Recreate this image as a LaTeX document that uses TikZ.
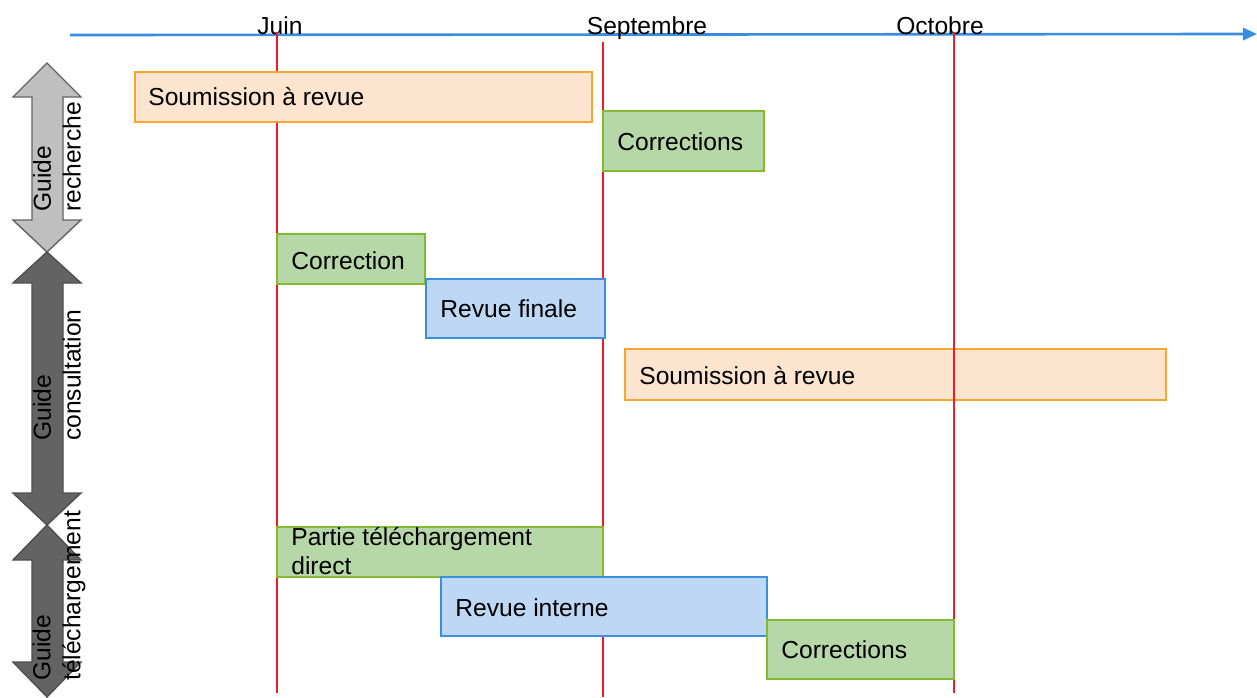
\documentclass[tikz,border=0pt]{standalone}
\usepackage{fontspec}
\setmainfont{Liberation Sans}
\usetikzlibrary{arrows.meta}

\definecolor{axisblue}{RGB}{58,141,222}
\definecolor{milered}{RGB}{238,28,36}
\definecolor{orangefill}{RGB}{252,228,207}
\definecolor{orangeline}{RGB}{248,165,49}
\definecolor{greenfill}{RGB}{182,215,168}
\definecolor{greenline}{RGB}{130,186,45}
\definecolor{bluefill}{RGB}{189,215,244}
\definecolor{blueline}{RGB}{59,143,221}
\definecolor{lightgrey}{RGB}{191,191,191}
\definecolor{darkgrey}{RGB}{99,99,99}

\begin{document}
\begin{tikzpicture}[x=0.02cm, y=-0.02cm,
        lbl/.style={anchor=west, inner sep=0, font=\fontsize{14}{16.5}\selectfont, align=left},
        month/.style={anchor=base, inner sep=0, font=\fontsize{14}{16}\selectfont},
        guide/.style={rotate=90, anchor=west, inner sep=0, align=left,
            font=\fontsize{14}{17}\selectfont},
        orangebox/.style={fill=orangefill, draw=orangeline, line width=1.2pt},
        greenbox/.style={fill=greenfill, draw=greenline, line width=1.2pt},
        bluebox/.style={fill=bluefill, draw=blueline, line width=1.2pt},
        mileline/.style={milered, line width=1.1pt}]
                    \useasboundingbox (0,0) rectangle (1257,697);
                    % axe du temps
                    \draw[axisblue, line width=1.5pt, -{Triangle[length=8pt, width=7pt]}] (70,35) -- (1257,34);
                    \node[month] (juin) at (280,34) {Juin};
                    \node[month] (sept) at (647,34) {Septembre};
                    \node[month] (oct) at (940,34) {Octobre};
                    \draw[mileline] (277,32) -- (277,693);
                    \draw[mileline] (603,42) -- (603,697);
                    % fleches des guides
                    \draw[fill=lightgrey, draw=darkgrey, line width=0.8pt]
                        (47,63) -- (81,97) -- (63,97) -- (63,220) -- (81,220) -- (47,252)
                        -- (13,220) -- (32,220) -- (32,97) -- (13,97) -- cycle;
                    \draw[fill=darkgrey, draw=darkgrey!80!black, line width=0.8pt]
                        (47,252) -- (81,283) -- (63,283) -- (63,493) -- (81,493) -- (47,525)
                        -- (13,493) -- (32,493) -- (32,283) -- (13,283) -- cycle;
                    \draw[fill=darkgrey, draw=darkgrey!80!black, line width=0.8pt]
                        (47,525) -- (81,560) -- (63,560) -- (63,662) -- (81,662) -- (47,697)
                        -- (13,662) -- (32,662) -- (32,560) -- (13,560) -- cycle;
                    \node[guide] (grech) at (57,212) {Guide\\recherche};
                    \node[guide] (gcons) at (57,441) {Guide\\consultation};
                    \node[guide] (gtele) at (59,681) {Guide\\téléchargement};
                    % taches
                    \draw[orangebox] (135,72) rectangle (592,122);
                    \node[lbl] (soumA) at (148,97) {Soumission à revue};
                    \draw[greenbox] (603,111) rectangle (764,171);
                    \node[lbl] (corrA) at (617,142) {Corrections};
                    \draw[greenbox] (277,234) rectangle (425,284);
                    \node[lbl] (corrB) at (291,261) {Correction};
                    \draw[bluebox] (426,279) rectangle (605,338);
                    \node[lbl] (revF) at (440,309) {Revue finale};
                    \draw[orangebox] (625,349) rectangle (1166,400);
                    \node[lbl] (soumB) at (639,376) {Soumission à revue};
                    \draw[greenbox] (277,527) rectangle (603,577);
                    \node[lbl, anchor=north west] (partie) at (291,527) {Partie téléchargement\\direct};
                    \draw[bluebox] (441,577) rectangle (767,636);
                    \node[lbl] (revI) at (455,608) {Revue interne};
                    \draw[mileline] (954,32) -- (954,693);
                    \draw[greenbox] (767,620) rectangle (954,679);
                    \node[lbl] (corrC) at (781,650) {Corrections};
                \end{tikzpicture}
\end{document}
